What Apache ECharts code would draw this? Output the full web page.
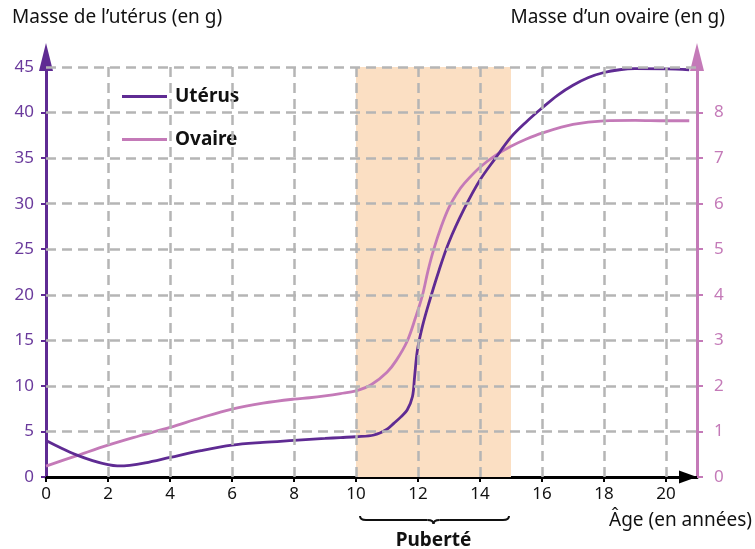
<!DOCTYPE html>
<html>
<head>
<meta charset="utf-8">
<script src="https://cdn.jsdelivr.net/npm/echarts@6/dist/echarts.min.js"></script>
<style>
  html, body { margin: 0; padding: 0; background: #fff; }
  #chart { width: 755px; height: 549px; }
</style>
</head>
<body>
<div id="chart"></div>
<script>
'use strict';
// age (years) -> mass of the uterus (g, left axis)
var uterusAge = [0, 0.5, 1, 1.5, 2, 2.3, 2.7, 3.2, 4, 5, 6, 7, 8, 8.5, 9, 9.5, 10, 10.58, 11, 11.22, 11.45, 11.65, 11.82, 11.89, 11.98, 12.14, 12.35, 12.68, 13, 13.5, 14, 14.5, 15, 15.5, 16, 16.5, 17, 17.5, 18, 18.5, 19, 20, 20.75];
var uterusMass = [4.0, 3.15, 2.4, 1.8, 1.35, 1.22, 1.28, 1.55, 2.15, 2.9, 3.5, 3.8, 4.02, 4.13, 4.23, 4.33, 4.42, 4.61, 5.25, 5.89, 6.6, 7.35, 8.81, 11.0, 13.9, 16.5, 19.07, 22.7, 25.8, 29.5, 32.6, 35.0, 37.3, 39.0, 40.5, 41.9, 43.0, 43.85, 44.4, 44.7, 44.82, 44.8, 44.7];
// age (years) -> mass of one ovary (g, right axis)
var ovaryAge = [0, 1, 2, 3, 4, 5, 6, 7, 8, 8.5, 9, 9.5, 10, 10.5, 11, 11.3, 11.65, 11.92, 12.14, 12.32, 12.5, 12.75, 13, 13.25, 13.5, 14, 14.5, 15, 15.5, 16, 17, 18, 19, 20, 20.75];
var ovaryMass = [0.24, 0.47, 0.7, 0.9, 1.09, 1.3, 1.49, 1.62, 1.71, 1.74, 1.78, 1.83, 1.89, 2.03, 2.3, 2.56, 2.98, 3.5, 3.98, 4.52, 4.98, 5.5, 5.92, 6.22, 6.45, 6.8, 7.06, 7.26, 7.42, 7.55, 7.74, 7.82, 7.83, 7.82, 7.82];

var xTicks = [0, 2, 4, 6, 8, 10, 12, 14, 16, 18, 20];
var leftTicks = [0, 5, 10, 15, 20, 25, 30, 35, 40, 45];
var rightTicks = [0, 1, 2, 3, 4, 5, 6, 7, 8];
var puberty = [10, 15];

var purple = '#5f2b93';
var pink = '#c47ab8';
var gridColor = '#b5b5b5';
var font = 'Noto Sans';

function pairs(xs, ys) {
    return xs.map(function(x, i) { return [x, ys[i]]; });
}

var gridLines = [];
xTicks.slice(1).forEach(function(x) {
    gridLines.push([{ coord: [x, 0] }, { coord: [x, 45] }]);
});
leftTicks.slice(1).forEach(function(y) {
    gridLines.push([{ coord: [0, y] }, { coord: [21, y] }]);
});

var chart = echarts.init(document.getElementById('chart'));

var option = {
    animation: false,
    textStyle: { fontFamily: font },
    grid: { left: 46, right: 58, top: 57, bottom: 72 },
    legend: {
        orient: 'vertical',
        left: 122,
        top: 87,
        padding: 0,
        icon: 'rect',
        itemWidth: 45,
        itemHeight: 3,
        itemGap: 24,
        data: ['Utérus', 'Ovaire'],
        textStyle: { fontFamily: font, fontSize: 19, fontWeight: 'bold', color: '#111', padding: [0, 0, 0, 3] }
    },
    xAxis: {
        type: 'value',
        min: 0,
        max: 21,
        axisLine: {
            lineStyle: { color: '#000', width: 3 },
            symbol: ['none', 'triangle'],
            symbolSize: [13, 18],
            symbolOffset: [0, -9]
        },
        axisTick: { customValues: xTicks, length: 5, lineStyle: { color: '#000', width: 2 } },
        axisLabel: { customValues: xTicks, color: '#111', fontSize: 17, margin: 9, fontFamily: font },
        splitLine: { show: false }
    },
    yAxis: [{
        type: 'value',
        min: 0,
        max: 46.1,
        position: 'left',
        axisLine: {
            show: true,
            lineStyle: { color: purple, width: 3 },
            symbol: ['none', 'triangle'],
            symbolSize: [14, 28]
        },
        axisTick: { show: true, customValues: leftTicks, length: 5, lineStyle: { color: purple, width: 2 } },
        axisLabel: { customValues: leftTicks, color: '#6a3a9c', fontSize: 17, margin: 12, fontFamily: font },
        splitLine: { show: false }
    }, {
        type: 'value',
        min: 0,
        max: 9.22,
        position: 'right',
        axisLine: {
            show: true,
            lineStyle: { color: pink, width: 3 },
            symbol: ['none', 'triangle'],
            symbolSize: [14, 28]
        },
        axisTick: { show: true, customValues: rightTicks, length: 6, lineStyle: { color: pink, width: 2 } },
        axisLabel: { customValues: rightTicks, color: pink, fontSize: 17, margin: 17, fontFamily: font },
        splitLine: { show: false }
    }],
    series: [{
        name: 'grid',
        type: 'line',
        data: [],
        z: 1,
        silent: true,
        markArea: {
            silent: true,
            itemStyle: { color: '#fbdfc3' },
            data: [[{ coord: [puberty[0], 0] }, { coord: [puberty[1], 45] }]]
        },
        markLine: {
            silent: true,
            symbol: ['none', 'none'],
            label: { show: false },
            lineStyle: { color: gridColor, width: 2.5, type: [10, 6] },
            data: gridLines
        }
    }, {
        name: 'Utérus',
        type: 'line',
        yAxisIndex: 0,
        data: pairs(uterusAge, uterusMass),
        smooth: 0.35,
        symbol: 'none',
        z: 4,
        lineStyle: { color: purple, width: 2.8 },
        itemStyle: { color: purple }
    }, {
        name: 'Ovaire',
        type: 'line',
        yAxisIndex: 1,
        data: pairs(ovaryAge, ovaryMass),
        smooth: 0.35,
        symbol: 'none',
        z: 3,
        lineStyle: { color: pink, width: 2.8 },
        itemStyle: { color: pink }
    }]
};
chart.setOption(option);

// axis titles and the puberty brace
var px10 = chart.convertToPixel({ xAxisIndex: 0 }, puberty[0]);
var px15 = chart.convertToPixel({ xAxisIndex: 0 }, puberty[1]);
var x1 = px10 + 4, x2 = px15 - 2, cx = (px10 + px15) / 2, y0 = 516;
var braceStyle = { stroke: '#111', lineWidth: 2, fill: null };

chart.setOption({
    graphic: [{
        type: 'text', left: 12, top: 8,
        style: { text: 'Masse de l’utérus (en g)', fontSize: 19, fontFamily: font, fill: '#111' }
    }, {
        type: 'text', right: 30, top: 8,
        style: { text: 'Masse d’un ovaire (en g)', fontSize: 19, fontFamily: font, fill: '#111' }
    }, {
        type: 'text', right: 3, top: 511,
        style: { text: 'Âge (en années)', fontSize: 19, fontFamily: font, fill: '#111' }
    }, {
        type: 'text', x: cx, y: 541,
        style: { text: 'Puberté', fontSize: 19, fontWeight: 'bold', fontFamily: font, fill: '#111', align: 'center', verticalAlign: 'middle' }
    }, {
        type: 'bezierCurve',
        shape: { x1: x1, y1: y0, cpx1: x1, cpy1: y0 + 4, x2: x1 + 6, y2: y0 + 4 },
        style: braceStyle
    }, {
        type: 'line',
        shape: { x1: x1 + 6, y1: y0 + 4, x2: cx - 6, y2: y0 + 4 },
        style: braceStyle
    }, {
        type: 'bezierCurve',
        shape: { x1: cx - 6, y1: y0 + 4, cpx1: cx, cpy1: y0 + 4, x2: cx, y2: y0 + 8 },
        style: braceStyle
    }, {
        type: 'bezierCurve',
        shape: { x1: cx, y1: y0 + 8, cpx1: cx, cpy1: y0 + 4, x2: cx + 6, y2: y0 + 4 },
        style: braceStyle
    }, {
        type: 'line',
        shape: { x1: cx + 6, y1: y0 + 4, x2: x2 - 6, y2: y0 + 4 },
        style: braceStyle
    }, {
        type: 'bezierCurve',
        shape: { x1: x2 - 6, y1: y0 + 4, cpx1: x2, cpy1: y0 + 4, x2: x2, y2: y0 },
        style: braceStyle
    }]
});
</script>
</body>
</html>
